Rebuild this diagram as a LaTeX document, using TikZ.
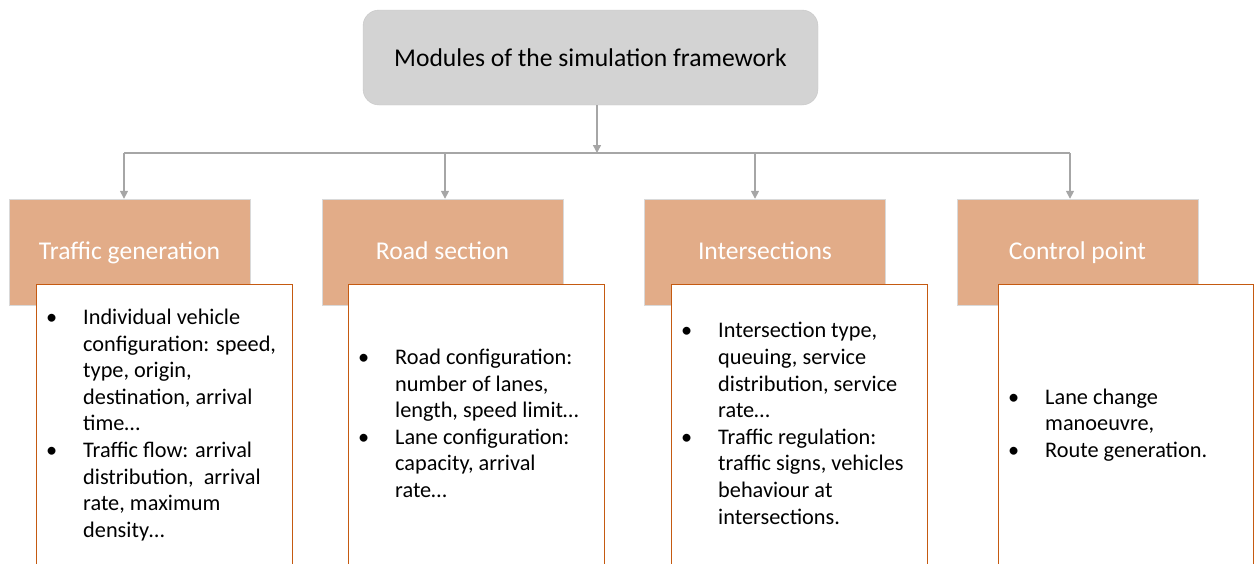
\documentclass[tikz,border=0pt]{standalone}
\usepackage{fontspec}
\setmainfont{Carlito}
\usetikzlibrary{arrows.meta,positioning}
\definecolor{gray1}{HTML}{D3D3D3}
\definecolor{gray2}{HTML}{A6A6A6}
\definecolor{tan1}{HTML}{E2AC88}
\definecolor{orange1}{HTML}{C55A11}
\newcommand{\bul}{\textbullet}

\tikzset{
  titlebox/.style={draw=gray!45,fill=gray1,rounded corners=16pt,minimum width=455pt,minimum height=95pt,font=\fontsize{25.6}{30}\selectfont},
  headbox/.style={draw=gray!30,fill=tan1,minimum width=241pt,minimum height=106pt,text=white,text height=17pt,text depth=3pt,font=\fontsize{25.6}{30}\selectfont},
  bodybox/.style={draw=orange1,line width=1.2pt,fill=white,minimum width=256pt,minimum height=282pt,anchor=north west},
  itemtext/.style={inner sep=0pt,font=\fontsize{22.3}{26.6}\selectfont},
  conn/.style={draw=gray2,line width=1.5pt},
  connarrow/.style={conn,-{Triangle[length=8pt,width=8pt]}}
}

\begin{document}
\begin{tikzpicture}[x=1pt,y=-1pt]

\useasboundingbox (0,0) rectangle (1259,563);
\clip (0,0) rectangle (1259,563);

% top of the tree
\node[titlebox] (title) at (590.5,57.5) {Modules of the simulation framework};

% module headers
\node[headbox] (gen) at (129.5,252) {Traffic generation};
\node[headbox] (road) at (442.5,252) {Road section};
\node[headbox] (inter) at (765,252) {Intersections};
\node[headbox] (ctrl) at (1077.5,252) {Control point};

% connectors
\coordinate (hubC) at (597,153);
\coordinate (hubA) at (124,153);
\coordinate (hubB) at (445,153);
\coordinate (hubD) at (755,153);
\coordinate (hubE) at (1070,153);

\draw[conn] (hubA) -- (hubE);
\draw[connarrow] (hubC |- title.south) -- (hubC);
\draw[connarrow] (hubA) -- (hubA |- gen.north);
\draw[connarrow] (hubB) -- (hubB |- road.north);
\draw[connarrow] (hubD) -- (hubD |- inter.north);
\draw[connarrow] (hubE) -- (hubE |- ctrl.north);

% module contents
\node[bodybox] (genbody) at (36,284) {};
\node[bodybox] (roadbody) at (348,284) {};
\node[bodybox] (interbody) at (671,284) {};
\node[bodybox,minimum width=255pt] (ctrlbody) at (998,284) {};

\node[itemtext,right=10pt of genbody.west] (genlist) {%
\begin{tabular}{@{}p{37pt}@{}l@{}}
\bul & Individual vehicle\\
     & configuration: speed,\\
     & type, origin,\\
     & destination, arrival\\
     & time…\\
\bul & Traffic flow: arrival\\
     & distribution,\ \ arrival\\
     & rate, maximum\\
     & density…
\end{tabular}};

\node[itemtext,right=10pt of roadbody.west] (roadlist) {%
\begin{tabular}{@{}p{37pt}@{}l@{}}
\bul & Road configuration:\\
     & number of lanes,\\
     & length, speed limit…\\
\bul & Lane configuration:\\
     & capacity, arrival\\
     & rate…
\end{tabular}};

\node[itemtext,right=10pt of interbody.west] (interlist) {%
\begin{tabular}{@{}p{37pt}@{}l@{}}
\bul & Intersection type,\\
     & queuing, service\\
     & distribution, service\\
     & rate…\\
\bul & Traffic regulation:\\
     & traffic signs, vehicles\\
     & behaviour at\\
     & intersections.
\end{tabular}};

\node[itemtext,right=10pt of ctrlbody.west] (ctrllist) {%
\begin{tabular}{@{}p{37pt}@{}l@{}}
\bul & Lane change\\
     & manoeuvre,\\
\bul & Route generation.
\end{tabular}};

\end{tikzpicture}
\end{document}
